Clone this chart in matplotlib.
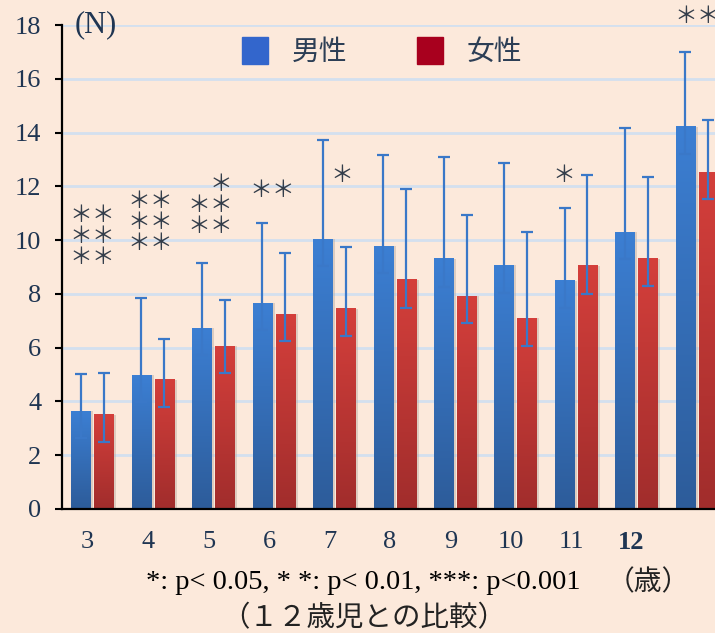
import numpy as np
import matplotlib
matplotlib.use('Agg')
import matplotlib.pyplot as plt
from matplotlib.patches import Patch

plt.rcParams['font.family'] = ['Liberation Serif', 'Noto Sans CJK JP']

# Data (N)
ages = ['3', '4', '5', '6', '7', '8', '9', '10', '11', '12', '']
male = [3.64, 4.98, 6.72, 7.66, 10.04, 9.78, 9.30, 9.07, 8.48, 10.30, 14.21]
male_hi = [5.02, 7.85, 9.14, 10.65, 13.72, 13.16, 13.09, 12.86, 11.21, 14.16, 17.00]
male_lo = [2.65, 3.97, 5.71, 6.66, 9.05, 8.79, 8.27, 8.05, 7.47, 9.29, 13.21]
female = [3.51, 4.80, 6.06, 7.25, 7.44, 8.52, 7.92, 7.10, 9.04, 9.30, 12.53]
female_hi = [5.05, 6.33, 7.77, 9.52, 9.74, 11.90, 10.92, 10.30, 12.42, 12.35, 14.48]
female_lo = [2.48, 3.80, 5.06, 6.26, 6.43, 7.47, 6.93, 6.07, 8.00, 8.29, 11.54]

# significance marks: (group index, x offset, top row y, rows)
stars = [
    (0, 0.0, 10.9, ['＊＊', '＊＊', '＊＊']),
    (1, -0.05, 11.43, ['＊＊', '＊＊', '＊＊']),
    (2, -0.05, 12.05, ['　＊', '＊＊', '＊＊']),
    (3, -0.03, 11.83, ['＊＊']),
    (4, 0.13, 12.42, ['＊']),
    (8, -0.2, 12.42, ['＊']),
    (10, 0.0, 18.3, ['＊＊']),
]

bg = '#FCE9DB'
blue_top, blue_bot = '#3C7FD3', '#2D5C9A'
red_top, red_bot = '#D43F3B', '#A12D2C'
err_col = '#3A78C8'
txt_col = '#1F3552'

fig = plt.figure(figsize=(7.15, 6.33), dpi=100)
fig.patch.set_facecolor(bg)
ax = fig.add_axes([0.0867, 0.1959, 0.9133, 0.7646])
ax.set_facecolor(bg)

x = np.arange(len(ages))
w = 0.32
off = 0.19


def grad_bars(xs, heights, c_top, c_bot):
    ct = np.array(matplotlib.colors.to_rgb(c_top))
    cb = np.array(matplotlib.colors.to_rgb(c_bot))
    t = np.linspace(0, 1, 128)[:, None]
    img = (ct * (1 - t) + cb * t)[:, None, :]
    for xi, h in zip(xs, heights):
        # soft shadow on the right
        ax.bar(xi + 0.045, h, w, color='#b9aaa0', alpha=0.45, zorder=1.5, linewidth=0)
        ax.imshow(img, extent=[xi - w / 2, xi + w / 2, 0, h], aspect='auto',
                  zorder=2, interpolation='bilinear')


grad_bars(x - off, male, blue_top, blue_bot)
grad_bars(x + off, female, red_top, red_bot)

for xs, m, hi, lo in [(x - off, male, male_hi, male_lo), (x + off, female, female_hi, female_lo)]:
    m = np.array(m)
    ax.errorbar(xs, m, yerr=[m - np.array(lo), np.array(hi) - m], fmt='none',
                ecolor=err_col, elinewidth=1.6, capsize=4.3, capthick=1.6, zorder=4)

for gi, dx, ytop, rows in stars:
    for k, r in enumerate(rows):
        ax.text(gi + dx, ytop - k * 0.78, r, ha='center', va='center',
                fontsize=16.5, color='#333d4a', family='Noto Sans CJK JP',
                clip_on=False, zorder=5)

ax.set_xlim(-0.505, 10.30)
ax.set_ylim(0, 18)
ax.set_yticks(np.arange(0, 19, 2))
ax.set_xticks(x - 0.08)
ax.set_xticklabels(ages)
ax.get_xticklabels()[9].set_fontweight('bold')

ax.yaxis.grid(True, color='#D3E0EF', linewidth=2)
ax.set_axisbelow(True)
for s in ['top', 'right']:
    ax.spines[s].set_visible(False)
for s in ['left', 'bottom']:
    ax.spines[s].set_color('black')
    ax.spines[s].set_linewidth(1.6)
    ax.spines[s].set_zorder(6)

ax.tick_params(axis='y', direction='out', length=5, width=1.5, color='black',
               labelsize=19, labelcolor=txt_col, pad=10)
ax.tick_params(axis='x', length=0, labelsize=19, labelcolor=txt_col, pad=16)

handles = [Patch(facecolor='#3366CC', edgecolor='#3366CC', label='男性'),
           Patch(facecolor='#A8001E', edgecolor='#A8001E', label='女性')]
leg = ax.legend(handles=handles, ncol=2, loc='upper left', bbox_to_anchor=(0.275, 0.975),
                frameon=False, prop={'family': 'Noto Sans CJK JP', 'size': 20},
                handlelength=0.95, handleheight=1.1, handletextpad=0.85,
                columnspacing=2.5, borderaxespad=0, borderpad=0)
for t in leg.get_texts():
    t.set_color('#2C3E55')

fig.text(0.105, 0.9605, '(N)', ha='left', va='center', fontsize=22, color=txt_col)
fig.text(0.508, 0.079, '*: p< 0.05, * *: p< 0.01, ***: p<0.001', ha='center', va='center',
         fontsize=20.5, color='black')
fig.text(0.907, 0.0806, '（歳）', ha='center', va='center', fontsize=20,
         family='Noto Sans CJK JP', color='#222222')
fig.text(0.509, 0.024, '（１２歳児との比較）', ha='center', va='center', fontsize=20.5,
         family='Noto Sans CJK JP', color='#222222')

fig.savefig('out.png', dpi=100, facecolor=bg)
